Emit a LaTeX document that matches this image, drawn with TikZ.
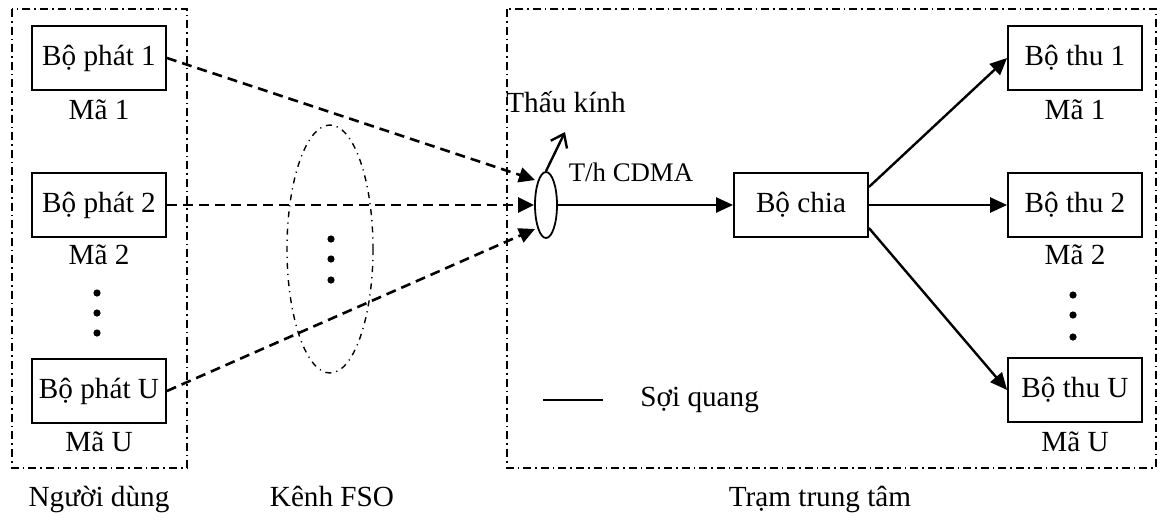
\documentclass[tikz,border=0pt]{standalone}
\usepackage{fontspec}
\setmainfont{Liberation Serif}
\usetikzlibrary{arrows.meta,shapes.geometric}
\begin{document}
\begin{tikzpicture}[x=0.5pt,y=-0.5pt,
  font=\fontsize{14.6pt}{16pt}\selectfont,
  frame/.style={line width=0.7pt,dash pattern=on 4pt off 2pt on 0.8pt off 2pt},
  fsoell/.style={line width=0.7pt,dash pattern=on 3pt off 2.5pt on 0.6pt off 2.5pt},
  blk/.style={draw,line width=0.9pt,inner sep=0pt,minimum width=67pt,minimum height=32pt},
  beam/.style={line width=1.3pt,dash pattern=on 5pt off 3pt,-{Triangle[length=8pt,width=7.5pt]}},
  fiber/.style={line width=1.2pt,-{Triangle[length=8.5pt,width=7.5pt]}},
  dotm/.style={circle,fill,inner sep=0pt,minimum size=3.6pt},
  lbl/.style={inner sep=0pt}
]
\useasboundingbox (0,0) rectangle (1160,526);
% frames
\draw[frame] (12,9) rectangle (187,468);
\draw[frame] (507,9) rectangle (1156,468);
\draw[fsoell] (330,249) ellipse [x radius=43, y radius=124];
% transmitters
\node[blk] (tx1) at (99,58) {Bộ phát 1};
\node[lbl] (m1) at (99,110) {Mã 1};
\node[blk] (tx2) at (99,205) {Bộ phát 2};
\node[lbl] (m2) at (99,255) {Mã 2};
\node[dotm] (ld1) at (97,293) {};
\node[dotm] (ld2) at (97,313) {};
\node[dotm] (ld3) at (97,333) {};
\node[blk] (txU) at (99,391) {Bộ phát U};
\node[lbl] (mU) at (99,442) {Mã U};
% channel dots
\node[dotm] (cd1) at (331,239) {};
\node[dotm] (cd2) at (331,259) {};
\node[dotm] (cd3) at (331,280) {};
% lens
\node[ellipse,draw,line width=0.9pt,inner sep=0pt,minimum width=11pt,minimum height=33pt] (lens) at (546,205) {};
\coordinate (t1) at (535,180);
\coordinate (t3) at (535,229);
\coordinate (lt) at (565,132);
\node[lbl,anchor=base] (lenslbl) at (566,112) {Thấu kính};
\node[lbl,font=\fontsize{13.4pt}{15pt}\selectfont] (cdma) at (631,172) {T/h CDMA};
% splitter and receivers
\node[blk] (chia) at (801,205) {Bộ chia};
\node[blk] (rx1) at (1075,58) {Bộ thu 1};
\node[lbl] (r1) at (1075,110) {Mã 1};
\node[blk] (rx2) at (1075,205) {Bộ thu 2};
\node[lbl] (r2) at (1075,255) {Mã 2};
\node[dotm] (rd1) at (1073,295) {};
\node[dotm] (rd2) at (1073,315) {};
\node[dotm] (rd3) at (1073,337) {};
\node[blk] (rxU) at (1075,390) {Bộ thu U};
\node[lbl] (rU) at (1075,442) {Mã U};
% connectors
\draw[beam] (tx1.east) -- (t1);
\draw[beam] (tx2.east) -- (lens.west);
\draw[beam] (txU.east) -- (t3);
\draw[line width=1.2pt,-{Straight Barb[length=6pt,width=9pt]}] (lens.north) -- (lt);
\draw[fiber] (lens.east) -- (chia.west);
\draw[fiber] ([yshift=9pt]chia.east) -- (rx1.west);
\draw[fiber] (chia.east) -- (rx2.west);
\draw[fiber] ([yshift=-11.5pt]chia.east) -- (rxU.west);
% legend
\coordinate (lg1) at (543,400);
\coordinate (lg2) at (603,400);
\draw[line width=1.2pt] (lg1) -- (lg2);
\node[lbl,anchor=west] (lgt) at (640,400) {Sợi quang};
% bottom labels
\node[lbl,anchor=base] (b1) at (99,506) {Người dùng};
\node[lbl,anchor=base] (b2) at (332,506) {Kênh FSO};
\node[lbl,anchor=base] (b3) at (820,506) {Trạm trung tâm};
\end{tikzpicture}
\end{document}
